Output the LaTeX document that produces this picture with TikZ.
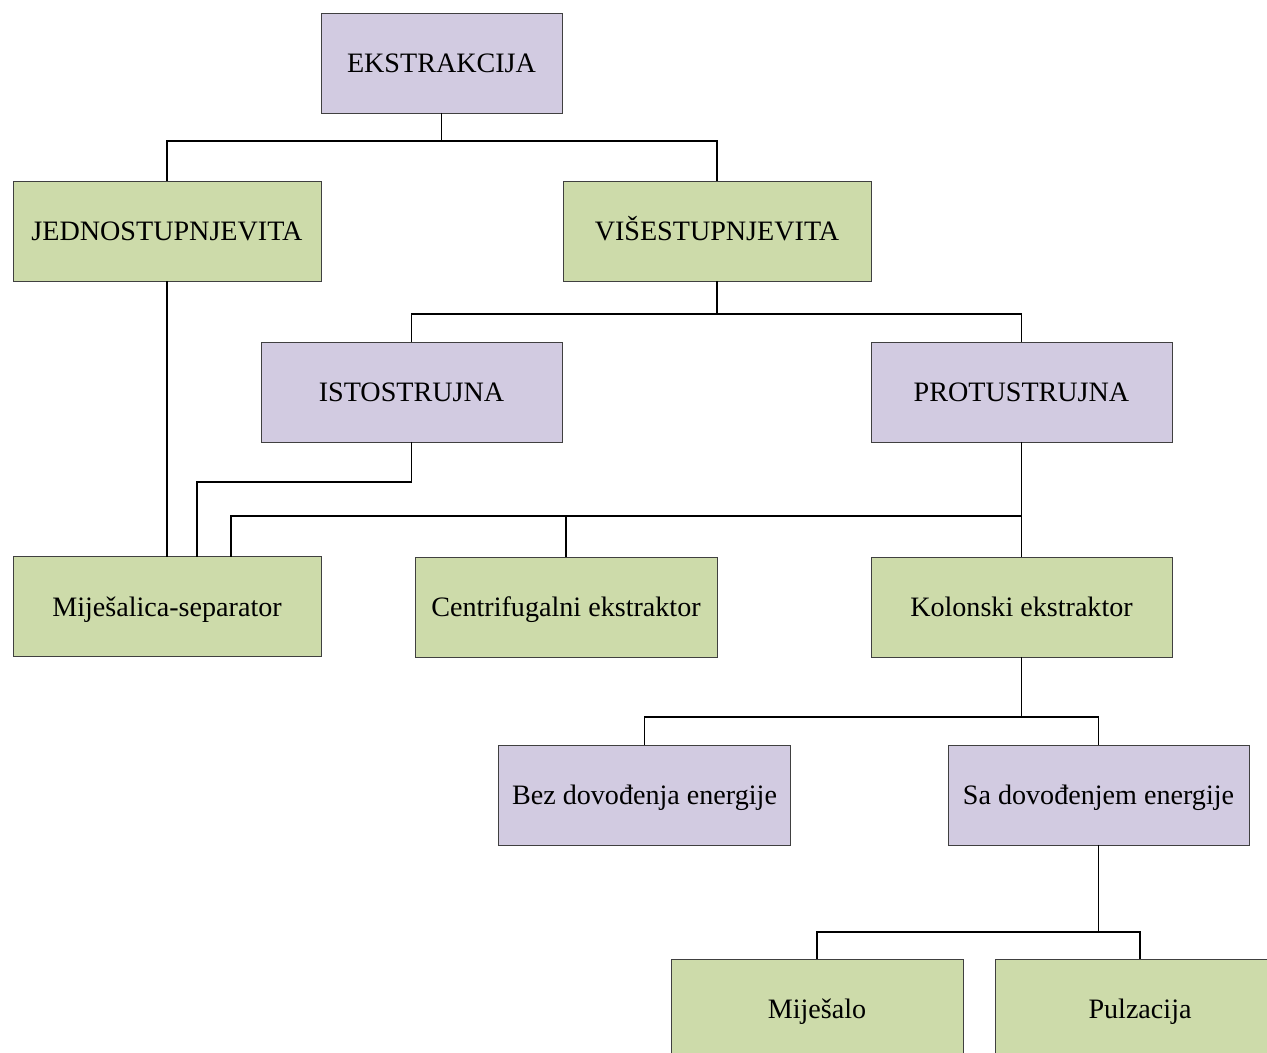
\documentclass[tikz,border=0pt]{standalone}
\usepackage{fontspec}
\setmainfont{Liberation Serif}
\usetikzlibrary{positioning}
\definecolor{lila}{RGB}{210,203,225}
\definecolor{zelena}{RGB}{205,219,170}
\tikzset{
  kutija/.style={draw=black!75,line width=0.5pt,rectangle,inner sep=0pt,outer sep=0pt,minimum height=2cm,text height=10.6pt,text depth=0pt,font=\fontsize{16pt}{19pt}\selectfont},
  veza/.style={draw=black,line width=0.7pt}
}

\begin{document}
\begin{tikzpicture}[x=0.02cm,y=-0.02cm]
        \useasboundingbox (0,0) rectangle (1267,1053);
        \clip (0,0) rectangle (1267,1053);
        \node(ekstrakcija)[kutija,fill=lila,minimum width=4.82cm] at (441.5,63) {EKSTRAKCIJA};
        \node(jedno)[kutija,fill=zelena,minimum width=6.16cm] at (167,231) {JEDNOSTUPNJEVITA};
        \node(vise)[kutija,fill=zelena,minimum width=6.16cm] at (717,231) {VIŠESTUPNJEVITA};
        \node(istostrujna)[kutija,fill=lila,minimum width=6.02cm] at (411.5,392) {ISTOSTRUJNA};
        \node(protustrujna)[kutija,fill=lila,minimum width=6.02cm] at (1021.5,392) {PROTUSTRUJNA};
        \node(mijesalica)[below=5.52cm of jedno,kutija,fill=zelena,minimum width=6.16cm] {Miješalica-separator};
        \node(centrifugalni)[kutija,fill=zelena,minimum width=6.04cm] at (566,607) {Centrifugalni ekstraktor};
        \node(kolonski)[below=2.3cm of protustrujna,kutija,fill=zelena,minimum width=6.02cm] {Kolonski ekstraktor};
        \node(bez)[kutija,fill=lila,minimum width=5.84cm] at (644.5,795) {Bez dovođenja energije};
        \node(sa)[kutija,fill=lila,minimum width=6.02cm] at (1098.5,795) {Sa dovođenjem energije};
        \node(mijesalo)[kutija,fill=zelena,minimum width=5.84cm] at (817,1009) {Miješalo};
        \node(pulzacija)[kutija,fill=zelena,minimum width=5.8cm] at (1140,1009) {Pulzacija};

        \draw[veza] (ekstrakcija.south) -- ++(0,28) -| (jedno.north);
        \draw[veza] (ekstrakcija.south) ++(0,28) -| (vise.north);
        \draw[veza] (vise.south) -- ++(0,33) -| (istostrujna.north);
        \draw[veza] (vise.south) ++(0,33) -| (protustrujna.north);
        \draw[veza] (jedno.south) -- (mijesalica.north);
        \draw[veza] (istostrujna.south) -- ++(0,40) -| ([xshift=0.6cm]mijesalica.north);
        \draw[veza] (protustrujna.south) -- (kolonski.north);
        \draw[veza] (protustrujna.south) ++(0,74) -| (centrifugalni.north);
        \draw[veza] (protustrujna.south) ++(0,74) -| ([xshift=1.28cm]mijesalica.north);
        \draw[veza] (kolonski.south) -- ++(0,60) -| (bez.north);
        \draw[veza] (kolonski.south) ++(0,60) -| (sa.north);
        \draw[veza] (sa.south) -- ++(0,87) -| (mijesalo.north);
        \draw[veza] (sa.south) ++(0,87) -| (pulzacija.north);
    \end{tikzpicture}
\end{document}
